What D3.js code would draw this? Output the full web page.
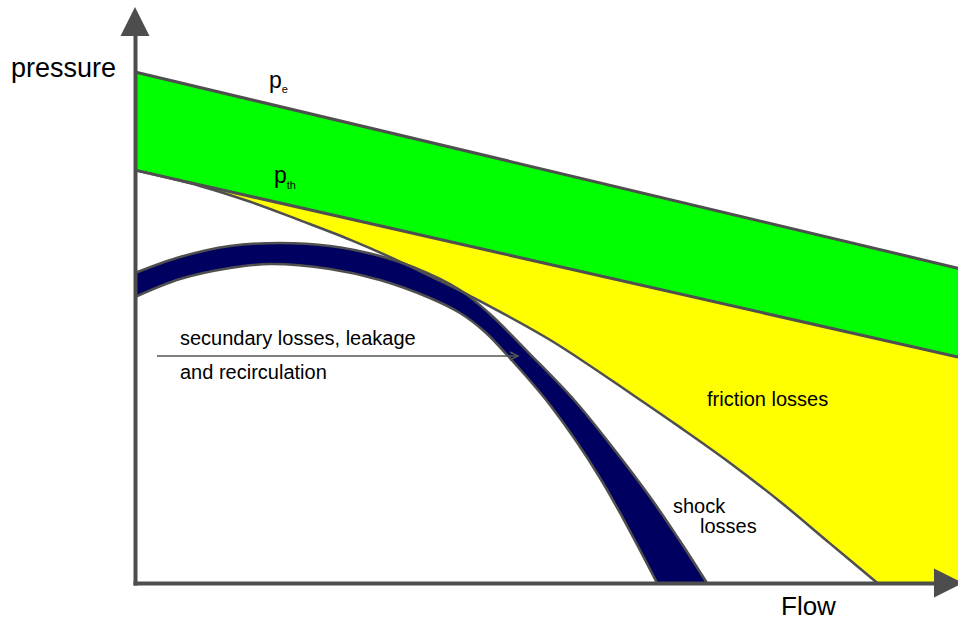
<!DOCTYPE html>
<html>
<head>
<meta charset="utf-8">
<script src="https://cdn.jsdelivr.net/npm/d3@7"></script>
<style>
  html, body { margin: 0; padding: 0; background: #fff; }
  svg { display: block; }
  text { font-family: "Liberation Sans", Arial, sans-serif; fill: #000; }
</style>
</head>
<body>
<svg id="chart" width="958" height="623"></svg>
<script>
// ---- data (flow 0..100, pressure 0..100, schematic units) ----
const pe_flow = [0, 100];
const pe_pressure = [100, 61.6];
const pth_flow = [0, 100];
const pth_pressure = [80.8, 44.2];

// friction-loss curve (lower edge of the yellow region)
const friction_flow = [0, 7.9, 14.0, 20.0, 26.1, 31.8, 37.1, 40.7, 50.4, 60.5, 66.2, 72.3, 78.4, 84.4, 90.2];
const friction_pressure = [80.8, 77.7, 74.6, 71.0, 67.2, 63.2, 59.1, 56.2, 47.6, 36.8, 30.5, 23.5, 15.9, 7.8, 0];

// shock-loss band (upper and lower edges)
const shockUpper_flow = [0, 5.47, 11.54, 17.62, 23.69, 29.77, 33.78, 39.49, 43.13, 47.99, 53.46, 57.71, 62.58, 66.22, 69.5];
const shockUpper_pressure = [60.67, 63.8, 65.95, 66.54, 65.95, 63.99, 61.84, 57.34, 52.64, 44.81, 35.62, 27.2, 16.83, 8.22, 0];
const shockLower_flow = [0, 5.47, 11.54, 16.4, 23.69, 29.77, 35.84, 39.49, 42.53, 45.32, 50.43, 56.5, 63.43];
const shockLower_pressure = [55.97, 59.49, 61.64, 62.43, 61.45, 59.3, 55.77, 52.84, 49.12, 44.42, 34.83, 20.55, 0];

const labels = {
  yAxis: "pressure",
  xAxis: "Flow",
  secondary1: "secundary losses, leakage",
  secondary2: "and recirculation",
  friction: "friction losses",
  shock1: "shock",
  shock2: "losses"
};

// ---- layout ----
const svg = d3.select("#chart");
const x = d3.scaleLinear().domain([0, 100]).range([135, 958]);
const y = d3.scaleLinear().domain([0, 100]).range([583, 72]);

const zip = (xs, ys) => xs.map((v, i) => [v, ys[i]]);
const pe = zip(pe_flow, pe_pressure);
const pth = zip(pth_flow, pth_pressure);
const friction = zip(friction_flow, friction_pressure);
const shockUp = zip(shockUpper_flow, shockUpper_pressure);
const shockLo = zip(shockLower_flow, shockLower_pressure);

const straight = d3.line().x(d => x(d[0])).y(d => y(d[1]));
const smooth = d3.line().x(d => x(d[0])).y(d => y(d[1])).curve(d3.curveCatmullRom.alpha(0.5));
const join = (a, b) => a + "L" + b.slice(1);

const strokeCol = "#4f4f4f";

// green band between p_e and p_th
svg.append("path")
  .attr("d", straight(pe) + "L" + x(pth[1][0]) + "," + y(pth[1][1]) + "L" + x(pth[0][0]) + "," + y(pth[0][1]) + "Z")
  .attr("fill", "#00ff00");

// yellow friction region
const yellowPath = straight(pth) + "L" + x(100) + "," + y(0) + "L" +
  x(friction[friction.length - 1][0]) + "," + y(0) + "L" + smooth(friction.slice().reverse()).slice(1) + "Z";
svg.append("path").attr("d", yellowPath).attr("fill", "#ffff00");

// navy shock-loss band
const bandPath = join(smooth(shockUp), smooth(shockLo.slice().reverse())) + "Z";
svg.append("path").attr("d", bandPath).attr("fill", "#000060");

// curve strokes
svg.append("path").attr("d", smooth(friction)).attr("fill", "none").attr("stroke", strokeCol).attr("stroke-width", 2.5);
svg.append("path").attr("d", smooth(shockUp)).attr("fill", "none").attr("stroke", strokeCol).attr("stroke-width", 2.5);
svg.append("path").attr("d", smooth(shockLo)).attr("fill", "none").attr("stroke", strokeCol).attr("stroke-width", 2.5);
svg.append("path").attr("d", straight(pe)).attr("fill", "none").attr("stroke", strokeCol).attr("stroke-width", 3);
svg.append("path").attr("d", straight(pth)).attr("fill", "none").attr("stroke", strokeCol).attr("stroke-width", 3);

// ---- axes (no ticks, with arrowheads) ----
const axisCol = "#4d4d4d";
const xAxisScale = d3.scaleLinear().domain([0, 100]).range([133, 936]);
const yAxisScale = d3.scaleLinear().domain([0, 100]).range([585, 34]);
const gx = svg.append("g").attr("transform", `translate(0,${y(0)})`)
  .call(d3.axisBottom(xAxisScale).tickValues([]).tickSizeOuter(0));
const gy = svg.append("g").attr("transform", `translate(${x(0)},0)`)
  .call(d3.axisLeft(yAxisScale).tickValues([]).tickSizeOuter(0));
[gx, gy].forEach(g => g.select(".domain").attr("stroke", axisCol).attr("stroke-width", 4));

svg.append("path")
  .attr("d", `M${x(0)},7L${x(0) + 14.5},36L${x(0) - 14.5},36Z`)
  .attr("fill", axisCol);
svg.append("path")
  .attr("d", `M963,${y(0)}L934,${y(0) - 14.5}L934,${y(0) + 14.5}Z`)
  .attr("fill", axisCol);

// ---- annotation arrow ----
const ax0 = 157, ax1 = 518, ay = 356;
svg.append("line").attr("x1", ax0).attr("x2", ax1).attr("y1", ay).attr("y2", ay)
  .attr("stroke", "#555").attr("stroke-width", 1.5);
svg.append("path").attr("d", `M${ax1 - 8},${ay - 4}L${ax1},${ay}L${ax1 - 8},${ay + 4}`)
  .attr("fill", "none").attr("stroke", "#555").attr("stroke-width", 1.5);

// ---- text ----
svg.append("text").attr("x", 11).attr("y", 77).style("font-size", "27px").text(labels.yAxis);
svg.append("text").attr("x", 781).attr("y", 615).style("font-size", "26px").text(labels.xAxis);

const pe_t = svg.append("text").attr("x", 269).attr("y", 88).style("font-size", "23px");
pe_t.append("tspan").text("p");
pe_t.append("tspan").attr("dy", 5).style("font-size", "11px").text("e");
const pth_t = svg.append("text").attr("x", 274).attr("y", 183).style("font-size", "23px");
pth_t.append("tspan").text("p");
pth_t.append("tspan").attr("dy", 6).style("font-size", "11px").text("th");

svg.append("text").attr("x", 180).attr("y", 345).style("font-size", "20px").text(labels.secondary1);
svg.append("text").attr("x", 180).attr("y", 379).style("font-size", "20px").text(labels.secondary2);
svg.append("text").attr("x", 707).attr("y", 406).style("font-size", "20px").text(labels.friction);
svg.append("text").attr("x", 673).attr("y", 513).style("font-size", "20px").text(labels.shock1);
svg.append("text").attr("x", 700).attr("y", 533).style("font-size", "20px").text(labels.shock2);
</script>
</body>
</html>
